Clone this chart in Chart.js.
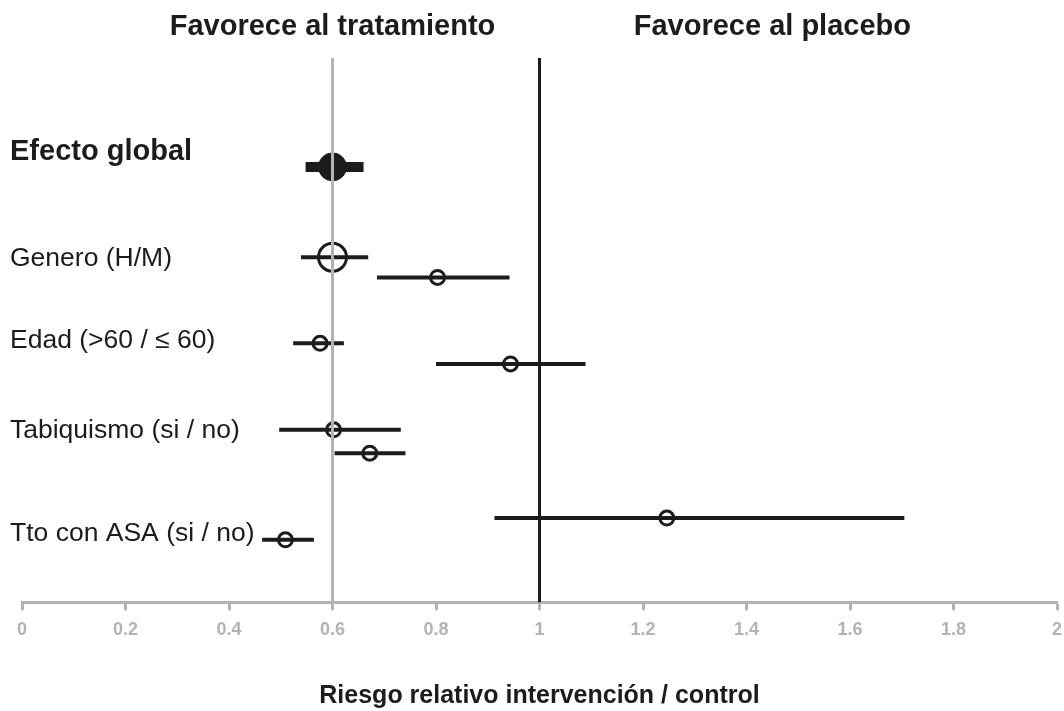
<!DOCTYPE html>
<html>
<head>
<meta charset="utf-8">
<script src="https://cdn.jsdelivr.net/npm/chart.js@4.4.1/dist/chart.umd.min.js"></script>
<style>
  html, body { margin: 0; padding: 0; background: #fff; overflow: hidden; }
  canvas { display: block; }
</style>
</head>
<body>
<canvas id="myChart" width="1064" height="711"></canvas>
<script>
// rows of the forest plot (labels on the left)
var groups = ['Efecto global', 'Genero (H/M)', 'Edad (>60 / \u2264 60)', 'Tabiquismo (si / no)', 'Tto con ASA (si / no)'];
var groupRows = [1.73, 3.68, 5.19, 6.85, 8.73];

// one entry per estimate
var rows     = [2.00, 3.66, 4.03, 5.24, 5.62, 6.83, 7.26, 8.45, 8.85];
var estimate = [0.600, 0.600, 0.803, 0.576, 0.944, 0.602, 0.672, 1.246, 0.509];
var lower    = [0.548, 0.539, 0.686, 0.524, 0.800, 0.497, 0.604, 0.913, 0.464];
var upper    = [0.660, 0.669, 0.942, 0.622, 1.089, 0.732, 0.741, 1.705, 0.564];

var headers = ['Favorece al tratamiento', 'Favorece al placebo'];
var headerX = [0.6, 1.45];

var xTitle = 'Riesgo relativo intervenci\u00f3n / control';

var FONT = "'Liberation Sans', Arial, sans-serif";
var INK = '#1c1c1c';
var GRAY = '#b3b3b3';

var datasets = [];

// reference lines
datasets.push({
    type: 'line', order: -1,
    data: [{x: 0.6, y: 0}, {x: 0.6, y: 10}],
    borderColor: GRAY, borderWidth: 3, pointRadius: 0
});
datasets.push({
    type: 'line', order: -1,
    data: [{x: 1, y: 0}, {x: 1, y: 10}],
    borderColor: INK, borderWidth: 3, pointRadius: 0
});

// markers + confidence intervals
for (var i = 0; i < rows.length; i++) {
    datasets.push({
        type: 'scatter', order: 0,
        data: [{x: estimate[i], y: rows[i]}],
        pointStyle: 'circle',
        pointRadius: i < 2 ? 14 : 7,
        pointBorderWidth: i === 0 ? 1 : 3,
        pointBorderColor: INK,
        pointBackgroundColor: i === 0 ? INK : 'rgba(0,0,0,0)'
    });
    datasets.push({
        type: 'line', order: 1,
        data: [{x: lower[i], y: rows[i]}, {x: upper[i], y: rows[i]}],
        borderColor: INK,
        borderWidth: i === 0 ? 10 : 4,
        borderCapStyle: 'butt',
        pointRadius: 0
    });
}

var textPlugin = {
    id: 'forestText',
    afterDraw: function (chart) {
        var c = chart.ctx;
        var xs = chart.scales.x, ys = chart.scales.y;
        c.save();
        c.fillStyle = INK;
        c.textBaseline = 'middle';
        c.textAlign = 'center';
        c.font = 'bold 29px ' + FONT;
        headers.forEach(function (h, k) {
            c.fillText(h, xs.getPixelForValue(headerX[k]), 27);
        });
        c.textAlign = 'left';
        groups.forEach(function (g, k) {
            c.font = (k === 0 ? 'bold 29px ' : '26.5px ') + FONT;
            c.fillText(g, 10, ys.getPixelForValue(groupRows[k]));
        });
        c.restore();
    }
};

var ctx = document.getElementById('myChart').getContext('2d');
var myChart = new Chart(ctx, {
    data: { datasets: datasets },
    plugins: [textPlugin],
    options: {
        responsive: false,
        animation: false,
        devicePixelRatio: 1,
        layout: {
            autoPadding: false,
            padding: { left: 22, right: 7, top: 58, bottom: 0 }
        },
        plugins: {
            legend: { display: false },
            tooltip: { enabled: false }
        },
        scales: {
            x: {
                type: 'linear',
                min: 0, max: 2,
                afterFit: function (scale) {
                    scale.paddingLeft = 0;
                    scale.paddingRight = 0;
                },
                ticks: {
                    stepSize: 0.2,
                    color: GRAY,
                    padding: 9,
                    font: { family: FONT, size: 18, weight: 'bold' },
                    callback: function (v) { return Math.round(v * 10) / 10; }
                },
                grid: {
                    drawOnChartArea: false,
                    drawTicks: true,
                    tickLength: 8,
                    tickWidth: 3,
                    tickColor: GRAY
                },
                border: { color: GRAY, width: 3 },
                title: {
                    display: true,
                    text: xTitle,
                    color: INK,
                    font: { family: FONT, size: 25, weight: 'bold' },
                    padding: { top: 31, bottom: 0 }
                }
            },
            y: {
                type: 'linear',
                display: false,
                reverse: true,
                min: 0, max: 10
            }
        }
    }
});
</script>
</body>
</html>
